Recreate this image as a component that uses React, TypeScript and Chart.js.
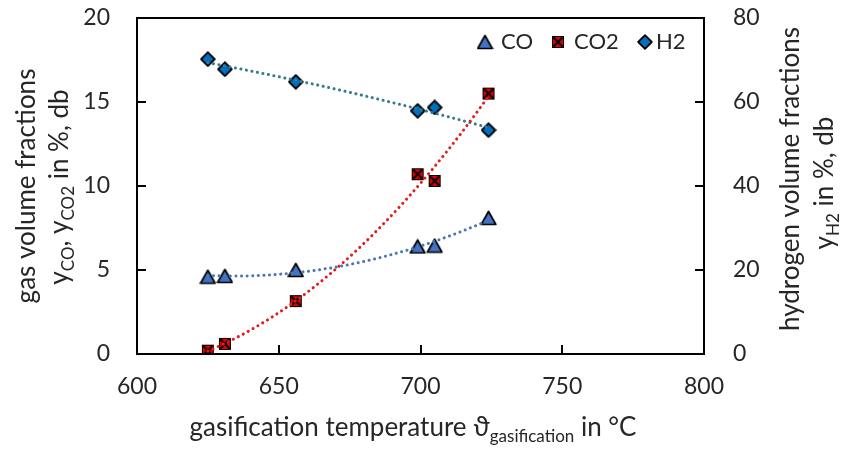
import React, { useEffect, useRef } from "react";
import { Chart, registerables } from "chart.js";
Chart.register(...registerables);

const temperatures = [625, 631, 656, 699, 705, 724];
const coValues = [4.6, 4.65, 5.0, 6.4, 6.45, 8.1];
const co2Values = [0.2, 0.6, 3.15, 10.7, 10.3, 15.5];
const h2Values = [70.2, 67.8, 64.8, 57.9, 58.7, 53.3];
const legendLabels = ["CO", "CO2", "H2"];

const FONT = "Lato, 'Open Sans', sans-serif";
const TICK_SIZE = 23;
const TITLE_SIZE = 26;
const LEGEND_SIZE = 22;
const TEXT_COLOR = "#262626";

function polyFit2(xs: number[], ys: number[]) {
  const n = xs.length;
  const mx = xs.reduce((a, b) => a + b, 0) / n;
  let s = [0, 0, 0, 0, 0];
  let t = [0, 0, 0];
  for (let i = 0; i < n; i++) {
    const x = xs[i] - mx;
    let p = 1;
    for (let k = 0; k < 5; k++) { s[k] += p; p *= x; }
    t[0] += ys[i]; t[1] += ys[i] * x; t[2] += ys[i] * x * x;
  }
  const A = [
    [s[0], s[1], s[2], t[0]],
    [s[1], s[2], s[3], t[1]],
    [s[2], s[3], s[4], t[2]],
  ];
  for (let i = 0; i < 3; i++) {
    let piv = i;
    for (let r = i + 1; r < 3; r++) if (Math.abs(A[r][i]) > Math.abs(A[piv][i])) piv = r;
    [A[i], A[piv]] = [A[piv], A[i]];
    for (let r = 0; r < 3; r++) {
      if (r === i) continue;
      const f = A[r][i] / A[i][i];
      for (let c = i; c < 4; c++) A[r][c] -= f * A[i][c];
    }
  }
  const c0 = A[0][3] / A[0][0], c1 = A[1][3] / A[1][1], c2 = A[2][3] / A[2][2];
  return (x: number) => { const d = x - mx; return c0 + c1 * d + c2 * d * d; };
}

function trend(xs: number[], ys: number[]) {
  const f = polyFit2(xs, ys);
  const lo = Math.min(...xs), hi = Math.max(...xs);
  const pts: { x: number; y: number }[] = [];
  const N = 80;
  for (let i = 0; i <= N; i++) {
    const x = lo + ((hi - lo) * i) / N;
    pts.push({ x, y: f(x) });
  }
  return pts;
}

function makeTriangle() {
  const c = document.createElement("canvas");
  c.width = 17; c.height = 16;
  const g = c.getContext("2d")!;
  g.beginPath();
  g.moveTo(8.5, 1.5); g.lineTo(15.8, 14.5); g.lineTo(1.2, 14.5); g.closePath();
  g.fillStyle = "#4472C4"; g.fill();
  g.lineWidth = 1.7; g.strokeStyle = "#000"; g.lineJoin = "round"; g.stroke();
  return c;
}
function makeCross() {
  const c = document.createElement("canvas");
  c.width = 14; c.height = 14;
  const g = c.getContext("2d")!;
  g.fillStyle = "#E00000"; g.fillRect(1, 1, 12, 12);
  g.strokeStyle = "#000"; g.lineWidth = 1; g.strokeRect(1.5, 1.5, 11, 11);
  g.lineWidth = 2;
  g.beginPath(); g.moveTo(2.5, 2.5); g.lineTo(11.5, 11.5); g.moveTo(11.5, 2.5); g.lineTo(2.5, 11.5); g.stroke();
  return c;
}
function makeDiamond() {
  const c = document.createElement("canvas");
  c.width = 16; c.height = 16;
  const g = c.getContext("2d")!;
  g.beginPath();
  g.moveTo(8, 1.2); g.lineTo(14.8, 8); g.lineTo(8, 14.8); g.lineTo(1.2, 8); g.closePath();
  g.fillStyle = "#0070C0"; g.fill();
  g.lineWidth = 1.8; g.strokeStyle = "#000"; g.lineJoin = "round"; g.stroke();
  return c;
}

type Run = { t: string; sub?: boolean };

function drawRuns(ctx: CanvasRenderingContext2D, runs: Run[], cx: number, baseline: number, rotated: boolean, size: number) {
  const subSize = Math.round(size * 0.66);
  const widths = runs.map((r) => {
    ctx.font = `${r.sub ? subSize : size}px ${FONT}`;
    return ctx.measureText(r.t).width;
  });
  const total = widths.reduce((a, b) => a + b, 0);
  ctx.save();
  if (rotated) { ctx.translate(baseline, cx); ctx.rotate(-Math.PI / 2); }
  else ctx.translate(cx, baseline);
  ctx.fillStyle = TEXT_COLOR;
  ctx.textBaseline = "alphabetic";
  ctx.textAlign = "left";
  let x = -total / 2;
  runs.forEach((r, i) => {
    ctx.font = `${r.sub ? subSize : size}px ${FONT}`;
    ctx.fillText(r.t, x, r.sub ? size * 0.22 : 0);
    x += widths[i];
  });
  ctx.restore();
}

function zeroPad(s: any) {
  s.paddingTop = 0; s.paddingBottom = 0; s.paddingLeft = 0; s.paddingRight = 0;
}

export default function App() {
  const ref = useRef<HTMLCanvasElement>(null);
  useEffect(() => {
    document.body.style.margin = "0";
    const tri = makeTriangle(), crs = makeCross(), dia = makeDiamond();
    const markers = [tri, crs, dia];
    const dotted = { borderDash: [0.1, 5.5], borderCapStyle: "round" as const, borderWidth: 3, pointRadius: 0, showLine: true, fill: false };

    const decor = {
      id: "decor",
      afterDraw(chart: any) {
        const { ctx, chartArea: a, scales } = chart;
        ctx.save();
        ctx.strokeStyle = "#000";
        ctx.lineWidth = 2;
        ctx.strokeRect(a.left, a.top, a.right - a.left, a.bottom - a.top);
        ctx.lineWidth = 2;
        const tl = 9;
        ctx.beginPath();
        [650, 700, 750].forEach((v) => { const x = Math.round(scales.x.getPixelForValue(v)); ctx.moveTo(x, a.bottom); ctx.lineTo(x, a.bottom - tl); });
        [5, 10, 15].forEach((v) => { const y = Math.round(scales.y.getPixelForValue(v)); ctx.moveTo(a.left, y); ctx.lineTo(a.left + tl, y); });
        [20, 40, 60].forEach((v) => { const y = Math.round(scales.y2.getPixelForValue(v)); ctx.moveTo(a.right, y); ctx.lineTo(a.right - tl, y); });
        ctx.stroke();
        ctx.restore();

        // axis titles
        drawRuns(ctx, [{ t: "gasification temperature \u03D1" }, { t: "gasification", sub: true }, { t: " in \u00B0C" }], 413, 436, false, TITLE_SIZE);
        drawRuns(ctx, [{ t: "gas volume fractions" }], 186, 35, true, TITLE_SIZE);
        drawRuns(ctx, [{ t: "y" }, { t: "CO", sub: true }, { t: ", y" }, { t: "CO2", sub: true }, { t: " in %, db" }], 187, 68, true, TITLE_SIZE);
        drawRuns(ctx, [{ t: "hydrogen volume fractions" }], 179, 799, true, TITLE_SIZE);
        drawRuns(ctx, [{ t: "y" }, { t: "H2", sub: true }, { t: " in %, db" }], 183, 833, true, TITLE_SIZE);

        // legend
        ctx.save();
        ctx.font = `${LEGEND_SIZE}px ${FONT}`;
        ctx.fillStyle = TEXT_COLOR;
        ctx.textBaseline = "middle";
        const lx = [485, 558, 645];
        const tx = [501, 574, 656];
        markers.forEach((m, i) => {
          ctx.drawImage(m, lx[i] - m.width / 2, 42 - m.height / 2);
          ctx.fillText(legendLabels[i], tx[i], 42);
        });
        ctx.restore();
      },
    };

    const chart = new Chart(ref.current!, {
      type: "scatter",
      data: {
        datasets: [
          { label: "CO trend", data: trend(temperatures, coValues), borderColor: "#4A78B0", yAxisID: "y", ...dotted },
          { label: "CO2 trend", data: trend(temperatures, co2Values), borderColor: "#E41B1B", yAxisID: "y", ...dotted },
          { label: "H2 trend", data: trend(temperatures, h2Values), borderColor: "#3A7A8E", yAxisID: "y2", ...dotted },
          { label: legendLabels[0], data: temperatures.map((x, i) => ({ x, y: coValues[i] })), pointStyle: tri, yAxisID: "y", showLine: false },
          { label: legendLabels[1], data: temperatures.map((x, i) => ({ x, y: co2Values[i] })), pointStyle: crs, yAxisID: "y", showLine: false },
          { label: legendLabels[2], data: temperatures.map((x, i) => ({ x, y: h2Values[i] })), pointStyle: dia, yAxisID: "y2", showLine: false },
        ] as any,
      },
      options: {
        responsive: false,
        animation: false,
        events: [],
        layout: { padding: { top: 18, left: 0, right: 0, bottom: 0 } },
        plugins: { legend: { display: false }, tooltip: { enabled: false } },
        scales: {
          x: {
            type: "linear", min: 600, max: 800,
            ticks: { stepSize: 50, font: { family: FONT, size: TICK_SIZE }, color: TEXT_COLOR, padding: 19, maxRotation: 0 },
            grid: { display: false, drawTicks: false }, border: { display: false },
            afterFit: (s: any) => { s.height = 102; zeroPad(s); },
          },
          y: {
            type: "linear", position: "left", min: 0, max: 20,
            ticks: { stepSize: 5, font: { family: FONT, size: TICK_SIZE }, color: TEXT_COLOR, padding: 27 },
            grid: { display: false, drawTicks: false }, border: { display: false },
            afterFit: (s: any) => { s.width = 137; zeroPad(s); },
          },
          y2: {
            type: "linear", position: "right", min: 0, max: 80,
            ticks: { stepSize: 20, font: { family: FONT, size: TICK_SIZE }, color: TEXT_COLOR, padding: 29 },
            grid: { display: false, drawTicks: false }, border: { display: false },
            afterFit: (s: any) => { s.width = 138; zeroPad(s); },
          },
        },
      },
      plugins: [decor],
    } as any);
    return () => chart.destroy();
  }, []);
  return (
    <div style={{ width: 842, height: 456 }}>
      <canvas ref={ref} width={842} height={456} />
    </div>
  );
}
